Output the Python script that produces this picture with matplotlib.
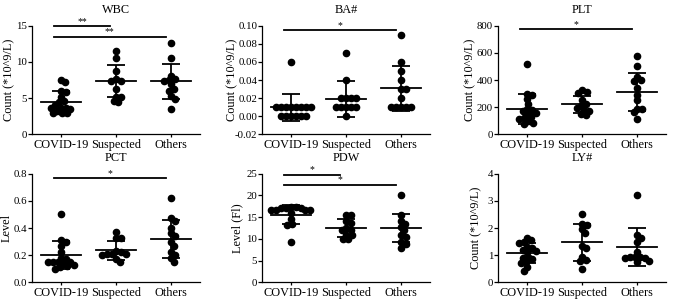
import numpy as np
import matplotlib.pyplot as plt

plt.rcParams['font.family'] = ['Liberation Serif', 'DejaVu Serif']
plt.rcParams['font.size'] = 8.5

groups = ['COVID-19', 'Suspected', 'Others']

# values, one list per group
wbc = [[7.5, 7.2, 6.0, 5.9, 5.1, 4.6, 4.4, 4.0, 3.7, 3.7, 3.6, 3.5, 3.2, 3.0, 2.9, 2.9],
       [11.5, 10.6, 8.7, 7.6, 7.4, 7.4, 6.3, 5.2, 5.1, 4.6, 4.5],
       [12.6, 10.5, 8.1, 7.7, 7.5, 7.4, 6.9, 6.3, 6.0, 5.3, 4.9, 3.5]]
ba = [[0.06, 0.01, 0.01, 0.01, 0.01, 0.01, 0.01, 0.01, 0.01, 0.0, 0.0, 0.0, 0.0, 0.0, 0.0],
      [0.07, 0.04, 0.02, 0.02, 0.02, 0.02, 0.01, 0.01, 0.01, 0.01, 0.01, 0.0],
      [0.09, 0.06, 0.05, 0.04, 0.03, 0.03, 0.02, 0.01, 0.01, 0.01, 0.01, 0.01]]
plt_ = [[520, 300, 290, 260, 225, 190, 180, 170, 160, 150, 130, 120, 110, 100, 85, 75],
        [330, 315, 305, 250, 225, 210, 195, 180, 170, 150, 140],
        [580, 500, 420, 400, 390, 340, 290, 250, 190, 185, 165, 115]]
pct = [[0.50, 0.31, 0.30, 0.27, 0.22, 0.18, 0.17, 0.15, 0.15, 0.15, 0.15, 0.14, 0.13, 0.12, 0.11, 0.10],
       [0.37, 0.33, 0.33, 0.23, 0.22, 0.21, 0.21, 0.21, 0.20, 0.17, 0.15],
       [0.62, 0.47, 0.45, 0.40, 0.36, 0.34, 0.30, 0.27, 0.22, 0.20, 0.18, 0.15]]
pdw = [[17.3, 17.3, 17.2, 17.2, 17.1, 16.7, 16.7, 16.6, 16.6, 16.0, 14.6, 13.5, 13.3, 9.3],
       [15.6, 15.6, 14.0, 13.6, 12.5, 12.0, 12.0, 11.0, 10.9, 10.0, 9.9],
       [20.0, 15.5, 14.2, 13.4, 12.8, 12.0, 11.0, 10.5, 9.2, 8.8, 7.9]]
ly = [[1.63, 1.57, 1.48, 1.45, 1.30, 1.25, 1.20, 1.15, 1.10, 0.92, 0.90, 0.85, 0.75, 0.72, 0.57, 0.42],
      [2.5, 2.15, 2.1, 1.95, 1.8, 1.35, 1.25, 0.95, 0.82, 0.78, 0.5],
      [3.2, 1.75, 1.65, 1.5, 1.1, 0.95, 0.93, 0.92, 0.9, 0.9, 0.8, 0.75]]

# mean and SD as drawn
means = [[4.5, 7.4, 7.3], [0.010, 0.019, 0.031], [187, 220, 312],
         [0.20, 0.235, 0.32], [15.55, 12.5, 12.5], [1.09, 1.47, 1.29]]
sds = [[1.5, 2.2, 2.4], [0.015, 0.020, 0.025], [112, 63, 140],
       [0.105, 0.073, 0.14], [2.2, 2.1, 3.3], [0.37, 0.68, 0.70]]

titles = ['WBC', 'BA#', 'PLT', 'PCT', 'PDW', 'LY#']
ylabels = ['Count (*10^9/L)', 'Count (*10^9/L)', 'Count (*10^9/L)',
           'Level', 'Level (Fl)', 'Count (*10^9/L)']
ylims = [(0, 15), (-0.02, 0.10), (0, 800), (0, 0.8), (0, 25), (0, 4)]
yticks = [[0, 5, 10, 15],
          [-0.02, 0.0, 0.02, 0.04, 0.06, 0.08, 0.10],
          [0, 200, 400, 600, 800],
          [0.0, 0.2, 0.4, 0.6, 0.8],
          [0, 5, 10, 15, 20, 25],
          [0, 1, 2, 3, 4]]
ytick_fmt = ['{:.0f}', '{:.2f}', '{:.0f}', '{:.1f}', '{:.0f}', '{:.0f}']
# significance bars: (from group, to group, height, label)
sigs = [[(0, 1, 14.9, '**'), (0, 2, 13.5, '**')],
        [(0, 2, 0.095, '*')],
        [(0, 2, 775, '*')],
        [(0, 2, 0.77, '*')],
        [(0, 1, 24.8, '*'), (0, 2, 22.5, '*')],
        []]
data = [wbc, ba, plt_, pct, pdw, ly]

lefts = [0.0473, 0.3876, 0.7367]
bottoms = [0.555, 0.065]
W, H = 0.2485, 0.36
ylab_x = [-0.137, -0.175, -0.167, -0.149, -0.149, -0.131]


def swarm(vals, d, sx, sy):
    placed = []
    offs = np.zeros(len(vals))
    for k in np.argsort(vals)[::-1]:
        y = vals[k] * sy
        cands = [0.0]
        for px, py in placed:
            dy = y - py
            if abs(dy) < d:
                dx = np.sqrt(d * d - dy * dy)
                cands += [px + dx, px - dx]
        cands.sort(key=abs)
        for c in cands:
            if all((c - px) ** 2 + (y - py) ** 2 >= d * d - 1e-6 for px, py in placed):
                break
        placed.append((c, y))
        offs[k] = c / sx
    return offs


fig = plt.figure(figsize=(6.76, 3.02), dpi=100)

for n in range(6):
    ax = fig.add_axes([lefts[n % 3], bottoms[n // 3], W, H])
    ax.set_xlim(-0.52, 2.52)
    ax.set_ylim(*ylims[n])
    sx = ax.bbox.width / 3.04
    sy = ax.bbox.height / (ylims[n][1] - ylims[n][0])
    for g in range(3):
        vals = np.array(data[n][g], dtype=float)
        off = swarm(vals, 5.0, sx, sy)
        ax.plot(g + off, vals, 'o', color='black', markersize=4.5, clip_on=False, zorder=3)
        ax.errorbar(g, means[n][g], yerr=sds[n][g], fmt='none', ecolor='black',
                    elinewidth=1.3, capsize=6.5, capthick=1.3, zorder=4)
        ax.plot([g - 0.36, g + 0.36], [means[n][g]] * 2, color='black', lw=1.3, zorder=4)
    for i, j, h, lab in sigs[n]:
        ax.plot([i - 0.12, j - 0.1], [h, h], color='black', lw=1.3, clip_on=False)
        ax.text((i + j) / 2 - 0.11, h, lab, ha='center', va='bottom', fontsize=7)
    ax.set_xticks(range(3))
    ax.set_xticklabels(groups)
    ax.set_yticks(yticks[n])
    ax.set_yticklabels([ytick_fmt[n].format(v) for v in yticks[n]])
    ax.tick_params(axis='x', length=2, width=0.9, pad=1.5, labelsize=8.8)
    ax.tick_params(axis='y', length=3, width=0.9, pad=0.5, labelsize=7.8)
    ax.set_ylabel(ylabels[n], fontsize=8.8, va='center')
    ax.yaxis.set_label_coords(ylab_x[n], 0.5)
    ax.set_title(titles[n], fontsize=8.8, pad=9)
    for s in ['top', 'right']:
        ax.spines[s].set_visible(False)
    for s in ['left', 'bottom']:
        ax.spines[s].set_linewidth(0.9)

fig.savefig('out.png', dpi=100)
